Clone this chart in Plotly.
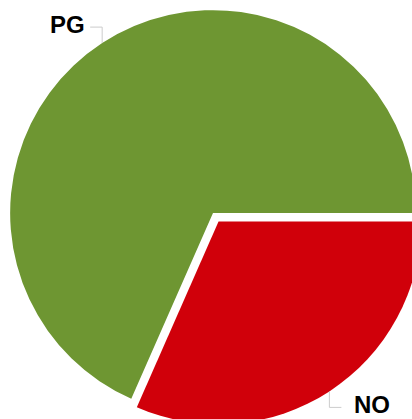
import math
import plotly.graph_objects as go

# ---- data ----
labels = ["NO", "PG"]
values = [31.6, 68.4]
colors = ["#d0000a", "#6e9632"]
pulls = [0.05, 0]

# ---- style / layout constants ----
FIG_W = 426
FIG_H = 426
ROTATION = 90          # first slice starts at 3 o'clock, going clockwise
LEADER_DROP = 16       # px, vertical part of the label leader
LEADER_RUN = 12        # px, horizontal part of the label leader
LABEL_GAP_LEFT = 3     # px, gap between leader end and a label on the left side
LABEL_GAP_RIGHT = 11   # px, gap between leader end and a label on the right side
LABEL_RAISE = 3        # px, vertical nudge of the label relative to the leader
LEADER_COLOR = "#cccccc"
LABEL_FONT = dict(family="Liberation Sans, Arial, sans-serif", size=24, color="black")

fig = go.Figure(go.Pie(
    labels=labels,
    values=values,
    marker=dict(colors=colors),
    pull=pulls,
    rotation=ROTATION,
    direction="clockwise",
    sort=False,
    automargin=False,
    textinfo="none",
    showlegend=False,
    hoverinfo="label+percent",
))

# Outside labels with elbow leaders, placed from the slice angles
total = sum(values)
r = 0.5 / (1 + max(pulls))          # pie radius in paper units (square plot area)
angle = ROTATION
for lab, val, pull in zip(labels, values, pulls):
    span = 360.0 * val / total
    mid = math.radians(angle + span / 2)
    angle += span
    sx, sy = math.sin(mid), math.cos(mid)           # paper: x right, y up
    x0 = 0.5 + (1 + pull) * r * sx
    y0 = 0.5 + (1 + pull) * r * sy
    vdir = 1 if sy > 0 else -1
    hdir = 1 if sx > 0 else -1
    y1 = y0 + vdir * LEADER_DROP / FIG_H
    x1 = x0 + hdir * LEADER_RUN / FIG_W
    fig.add_shape(
        type="path",
        xref="paper", yref="paper",
        path=f"M {x0},{y0} L {x0},{y1} L {x1},{y1}",
        line=dict(color=LEADER_COLOR, width=1),
    )
    fig.add_annotation(
        x=x1, y=y1, xref="paper", yref="paper",
        text=f"<b>{lab}</b>",
        showarrow=False,
        xanchor="left" if hdir > 0 else "right",
        yanchor="middle",
        xshift=hdir * (LABEL_GAP_RIGHT if hdir > 0 else LABEL_GAP_LEFT),
        yshift=LABEL_RAISE,
        font=LABEL_FONT,
    )

fig.update_layout(
    width=FIG_W, height=FIG_H,
    margin=dict(l=0, r=0, t=0, b=0),
    paper_bgcolor="white",
    plot_bgcolor="white",
)
fig.write_html(
    "out.html",
    config={"displayModeBar": False},
    post_script="document.body.style.margin='0';document.body.style.overflow='hidden';",
)
